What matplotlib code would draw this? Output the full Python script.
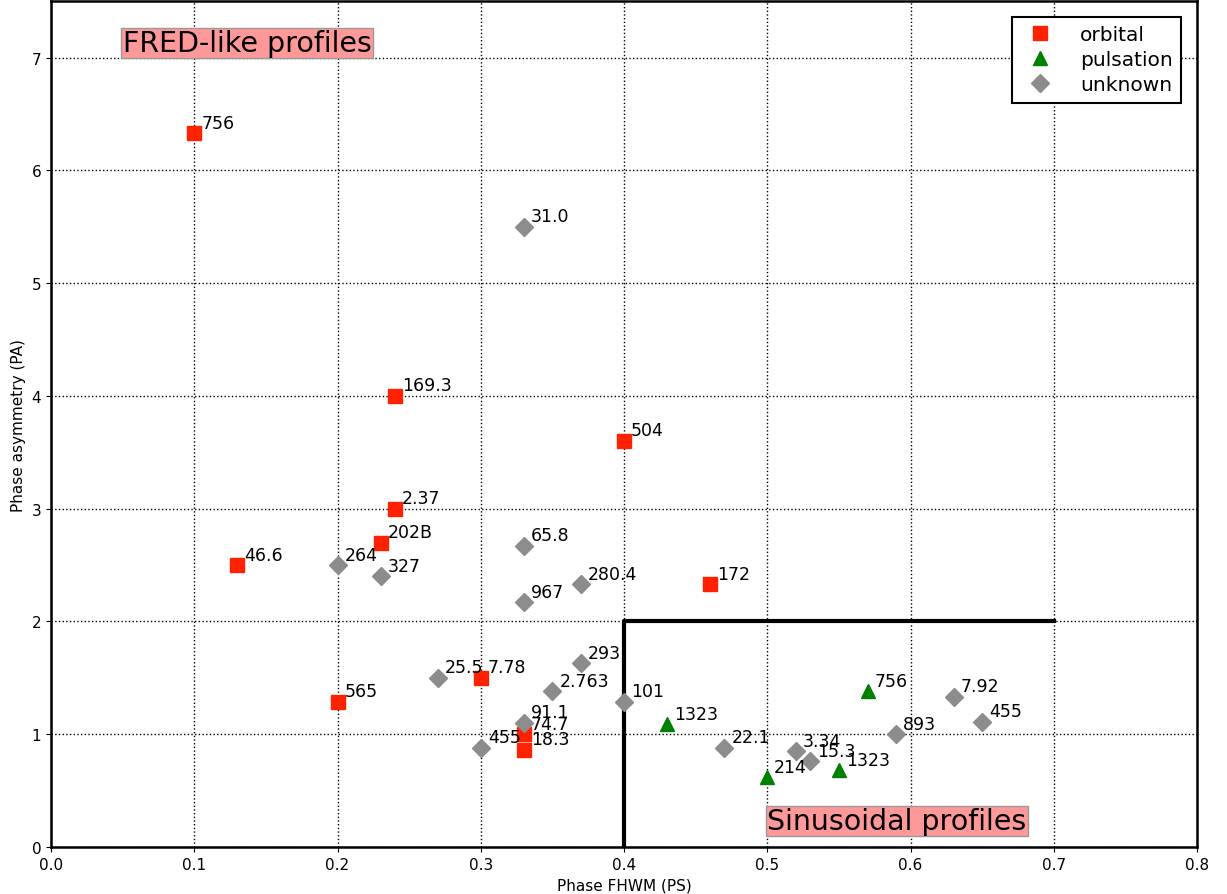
import matplotlib
matplotlib.use('Agg')
import matplotlib.pyplot as plt

# orbital periods
orb_x = [0.10, 0.24, 0.40, 0.24, 0.23, 0.13, 0.46, 0.20, 0.30, 0.33, 0.33]
orb_y = [6.33, 4.00, 3.60, 3.00, 2.70, 2.50, 2.33, 1.29, 1.50, 1.00, 0.86]
orb_lab = ['756', '169.3', '504', '2.37', '202B', '46.6', '172', '565', '7.78', '74.7', '18.3']

# pulsation periods
pul_x = [0.57, 0.43, 0.50, 0.55]
pul_y = [1.38, 1.09, 0.62, 0.68]
pul_lab = ['756', '1323', '214', '1323']

# unknown
unk_x = [0.33, 0.33, 0.20, 0.23, 0.37, 0.33, 0.27, 0.37, 0.35, 0.40, 0.33, 0.30,
         0.47, 0.52, 0.53, 0.59, 0.63, 0.65]
unk_y = [5.50, 2.67, 2.50, 2.40, 2.33, 2.17, 1.50, 1.63, 1.38, 1.29, 1.10, 0.88,
         0.88, 0.85, 0.76, 1.00, 1.33, 1.11]
unk_lab = ['31.0', '65.8', '264', '327', '280.4', '967', '25.5', '293', '2.763', '101',
           '91.1', '455', '22.1', '3.34', '15.3', '893', '7.92', '455']

fig = plt.figure(figsize=(12.27, 8.95), dpi=100)
ax = fig.add_axes([0.0416, 0.0525, 0.934, 0.945])

ax.plot(orb_x, orb_y, 's', color='#ff2200', mec='#ff2200', ms=9.5, label='orbital', zorder=3)
ax.plot(pul_x, pul_y, '^', color='green', mec='green', ms=10.5, label='pulsation', zorder=3)
ax.plot(unk_x, unk_y, 'D', color='#8c8c8c', mec='#8c8c8c', ms=9.5, label='unknown', zorder=3)

for xs, ys, labs in [(orb_x, orb_y, orb_lab), (pul_x, pul_y, pul_lab), (unk_x, unk_y, unk_lab)]:
    for x, y, s in zip(xs, ys, labs):
        ax.annotate(s, (x, y), xytext=(5, 4), textcoords='offset points', fontsize=12.5)

# sinusoidal region
ax.plot([0.4, 0.4, 0.7], [0, 2, 2], color='black', lw=3)

ax.text(0.05, 7.13, 'FRED-like profiles', fontsize=20.5, va='center',
        bbox=dict(facecolor='#ff9999', edgecolor='#999999', pad=1))
ax.text(0.5, 0.23, 'Sinusoidal profiles', fontsize=20.5, va='center',
        bbox=dict(facecolor='#ff9999', edgecolor='#999999', pad=1))

ax.set_xlim(0, 0.8)
ax.set_ylim(0, 7.5)
ax.set_xticks([0.0, 0.1, 0.2, 0.3, 0.4, 0.5, 0.6, 0.7, 0.8])
ax.set_yticks(range(8))
ax.tick_params(labelsize=11)
ax.grid(True, linestyle=':', color='black', lw=1)
ax.set_xlabel('Phase FHWM (PS)', fontsize=11)
ax.set_ylabel('Phase asymmetry (PA)', fontsize=11)
for sp in ax.spines.values():
    sp.set_linewidth(1.8)

leg = ax.legend(loc='upper right', numpoints=1, fontsize=14.5, fancybox=False,
                edgecolor='black', framealpha=1, borderaxespad=0.8,
                handletextpad=1.0, labelspacing=0.3, borderpad=0.4)
leg.get_frame().set_linewidth(1.5)

fig.savefig('out.png', dpi=100)
